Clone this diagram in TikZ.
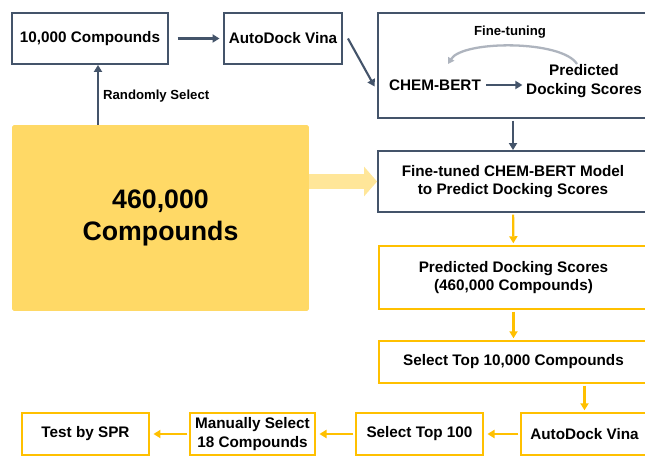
\documentclass[tikz,border=0pt]{standalone}
\usepackage{fontspec}
\setmainfont{Liberation Sans}
\usetikzlibrary{arrows.meta, calc}

\definecolor{navy}{HTML}{44546A}
\definecolor{gold}{HTML}{FFC000}
\definecolor{sand}{HTML}{FFD966}
\definecolor{pale}{HTML}{FFE699}
\definecolor{mist}{HTML}{AEB4BE}

\begin{document}
\begin{tikzpicture}[
  x=0.02cm, y=-0.02cm,
  txt/.style={font=\fontsize{8.7}{10.4}\selectfont\bfseries, align=center, inner sep=1pt},
  lbl/.style={font=\fontsize{7.5}{9}\selectfont\bfseries, inner sep=1pt},
  navbox/.style={txt, rectangle, draw=navy, line width=1.1pt, fill=white},
  goldbox/.style={txt, rectangle, draw=gold, line width=1.1pt, fill=white, minimum height=0.84cm},
  bigbox/.style={rectangle, rounded corners=1pt, fill=sand, minimum width=5.94cm, minimum height=3.72cm,
    align=center, font=\fontsize{15.2}{18.1}\selectfont\bfseries},
  navarr/.style={-{Triangle[length=4pt,width=4.6pt]}, navy, line width=1.2pt},
  goldarr/.style={-{Triangle[length=4pt,width=4.6pt]}, gold, line width=1.2pt},
  fatarr/.style={-{Triangle[length=0.26cm,width=0.58cm]}, pale, line width=0.3cm},
  tune/.style={-{Triangle[length=3.5pt,width=4pt]}, mist, line width=1.3pt},
]
\useasboundingbox (0,0) rectangle (645,456);
\clip (0,0) rectangle (645,456);

% training branch
\node[navbox, minimum width=3.12cm, minimum height=1.02cm] (c10k) at (90,38.5) {10,000 Compounds};
\node[navbox, minimum width=2.36cm, minimum height=1.02cm] (vina1) at (283,38.5) {AutoDock Vina};
\node[navbox, minimum width=5.4cm, minimum height=2.1cm] (ftbox) at (513,65.5) {};
\node[txt] (tunelbl) at (510,32) {\fontsize{7.5}{9}\selectfont Fine-tuning};
\node[txt] (chembert) at (435,85) {CHEM-BERT};
\node[txt] (predtxt) at (584,81) {Predicted\\Docking Scores};
\coordinate (tunestart) at (577,64);
\coordinate (tuneend) at (448,64);

% screening branch
\node[bigbox] (big) at (160.5,218) {460,000\\Compounds};
\node[navbox, minimum width=5.4cm, minimum height=1.22cm] (ftmodel) at (513,181.5)
  {Fine-tuned CHEM-BERT Model\\to Predict Docking Scores};
\node[goldbox, minimum width=5.38cm, minimum height=1.26cm] (predall) at (513.5,277.5)
  {Predicted Docking Scores\\(460,000 Compounds)};
\node[goldbox, minimum width=5.38cm] (top10k) at (513.5,362) {Select Top 10,000 Compounds};
\node[goldbox, minimum width=2.54cm] (vina2) at (584.5,434) {AutoDock Vina};
\node[goldbox, minimum width=2.54cm] (top100) at (419.5,434) {Select Top 100};
\node[goldbox, minimum width=2.5cm] (manual) at (252.5,434) {Manually Select\\18 Compounds};
\node[goldbox, minimum width=2.54cm] (spr) at (85.5,434) {Test by SPR};

\path (c10k.south) ++(8,0) coordinate (rsel);
\node[lbl, anchor=west] (rsellbl) at (101,96) {Randomly Select};

\draw[navarr] (rsel |- big.north) -- (rsel);
\draw[navarr, shorten <=5pt, shorten >=2pt] (c10k) -- (vina1);
\draw[navarr] ([xshift=0.1cm]vina1.east) -- ([shift={(-0.05cm,-0.42cm)}]ftbox.west);
\draw[navarr, shorten <=2pt, shorten >=1pt] (chembert) -- (chembert -| predtxt.west);
\draw[tune] (tunestart) .. controls (562,40) and (463,40) .. (tuneend);
\draw[navarr, shorten <=1pt] (ftbox) -- (ftmodel);

\draw[fatarr] (big.east |- ftmodel.west) -- (ftmodel.west);

\draw[goldarr, shorten <=1pt, shorten >=1pt] (ftmodel) -- (predall);
\draw[goldarr, shorten <=1pt, shorten >=1pt] (predall) -- (top10k);
\draw[goldarr, shorten <=1pt, shorten >=1pt] (top10k.south -| vina2.north) -- (vina2.north);
\draw[goldarr, shorten <=1pt, shorten >=2pt] (vina2) -- (top100);
\draw[goldarr, shorten <=1pt, shorten >=2pt] (top100) -- (manual);
\draw[goldarr, shorten <=1pt, shorten >=2pt] (manual) -- (spr);
\end{tikzpicture}
\end{document}
